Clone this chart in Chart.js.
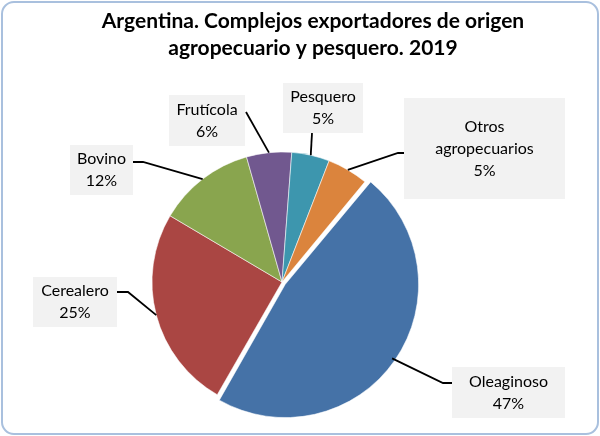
<!DOCTYPE html>
<html>
<head>
<meta charset="utf-8">
<script src="https://cdn.jsdelivr.net/npm/chart.js@4"></script>
<style>
  html, body { margin: 0; padding: 0; background: #fff; }
  #frame {
    position: absolute; left: 1px; top: 1px;
    width: 594px; height: 430px;
    border: 2px solid #a9c0de; border-radius: 13px;
  }
  #chart_view { position: absolute; left: 0; top: 0; }
</style>
</head>
<body>
<div id="frame"></div>
<canvas id="chart_view" width="600" height="436"></canvas>
<script>
var target = document.getElementById('chart_view');

const titleLines = [
  'Argentina. Complejos exportadores de origen',
  'agropecuario y pesquero. 2019'
];
const labels = [
  'Oleaginoso',
  'Cerealero',
  'Bovino',
  'Frutícola',
  'Pesquero',
  'Otros agropecuarios'
];
// share of exports, %
const values = [47.3, 25.2, 12.1, 5.6, 4.7, 5.1];
const colors = ['#4572a7', '#aa4643', '#89a54e', '#71588f', '#3d96ae', '#db843d'];

// callout boxes: [x, y, w, h] and the elbow of each leader line
const boxes = [
  [452, 367, 113, 51],
  [33, 277, 84, 50],
  [70, 145, 63, 50],
  [169, 95, 76, 51],
  [283, 83, 80, 50],
  [404, 98, 161, 101]
];
const elbows = [
  [[443, 383], [452, 383]],
  [[128, 292], [117, 292]],
  [[143, 162], [133, 162]],
  [[246, 112]],
  [[312, 133]],
  [[398, 153], [404, 153]]
];

const labelFont = '16px Lato';
const lineH = 22;

function wrap(ctx, text, maxW) {
  var words = text.split(' ');
  var lines = [];
  var cur = '';
  words.forEach(function (w) {
    var t = cur ? cur + ' ' + w : w;
    if (cur && ctx.measureText(t).width > maxW) {
      lines.push(cur);
      cur = w;
    } else {
      cur = t;
    }
  });
  if (cur) lines.push(cur);
  return lines;
}

const calloutPlugin = {
  id: 'callouts',
  afterDatasetsDraw(chart) {
    const ctx = chart.ctx;
    const meta = chart.getDatasetMeta(0);
    const total = values.reduce(function (a, b) { return a + b; }, 0);
    ctx.save();
    meta.data.forEach(function (arc, i) {
      const p = arc.getProps(['x', 'y', 'startAngle', 'endAngle', 'outerRadius'], true);
      const mid = (p.startAngle + p.endAngle) / 2;
      const shift = (arc.options.offset || 0) / 4;
      const r = p.outerRadius + shift;
      const ax = p.x + Math.cos(mid) * r;
      const ay = p.y + Math.sin(mid) * r;

      // leader line
      ctx.strokeStyle = '#000';
      ctx.lineWidth = 1.8;
      ctx.beginPath();
      ctx.moveTo(ax, ay);
      elbows[i].forEach(function (pt) { ctx.lineTo(pt[0], pt[1]); });
      ctx.stroke();

      // box + text
      const b = boxes[i];
      ctx.fillStyle = '#f2f2f2';
      ctx.fillRect(b[0], b[1], b[2], b[3]);
      ctx.font = labelFont;
      const lines = wrap(ctx, labels[i], Math.min(b[2] - 12, 110));
      lines.push(Math.round(values[i] / total * 100) + '%');
      ctx.fillStyle = '#000';
      ctx.textAlign = 'center';
      ctx.textBaseline = 'middle';
      const cy = b[1] + b[3] / 2 - (lines.length - 1) * lineH / 2;
      lines.forEach(function (ln, k) {
        ctx.fillText(ln, b[0] + b[2] / 2, cy + k * lineH);
      });
    });
    ctx.restore();
  },
  afterDraw(chart) {
    const ctx = chart.ctx;
    ctx.save();
    ctx.font = 'bold 21px Lato';
    ctx.fillStyle = '#000';
    ctx.textAlign = 'center';
    ctx.textBaseline = 'middle';
    titleLines.forEach(function (t, k) {
      ctx.fillText(t, 313, 21 + k * 27);
    });
    ctx.restore();
  }
};

const data = {
  labels: labels,
  datasets: [
    {
    data: values,
    backgroundColor: colors,
    borderColor: 'rgba(255,255,255,0.55)',
    borderWidth: 1,
    offset: [16, 0, 0, 0, 0, 0]
  }
  ]
};

const config = {
  type: 'pie',
  data: data,
  options: {
    responsive: false,
    animation: false,
    rotation: 39.6,
    radius: 130,
    layout: {
      padding: { left: 20, right: 56, top: 140, bottom: 12 }
    },
    plugins: {
      legend: { display: false },
      tooltip: { enabled: false },
      title: { display: false }
    }
  },
  plugins: [calloutPlugin]
};

var myChart = new Chart(
    target,
    config
  );
</script>
</body>
</html>
